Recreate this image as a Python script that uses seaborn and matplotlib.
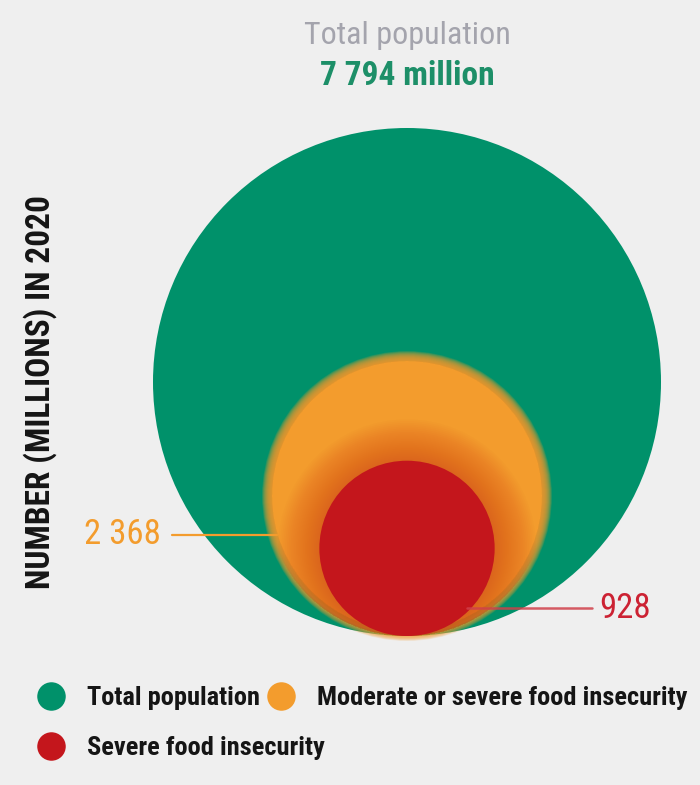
import numpy as np
import pandas as pd
import matplotlib
matplotlib.use("Agg")
import matplotlib.pyplot as plt
from matplotlib.patches import Circle
from matplotlib.lines import Line2D
from matplotlib import font_manager
import seaborn as sns

# ---------------- data ----------------
categories = ["Total population", "Moderate or severe food insecurity", "Severe food insecurity"]
values = [7794, 2368, 928]
value_labels = ["7 794", "2 368", "928"]
colors = ["#00916a", "#f39c2d", "#c4161c"]
label_colors = ["#1d8f68", "#f39c2d", "#cc2233"]

title_text = "Total population"
total_text = value_labels[0] + " million"
ylabel_text = "NUMBER (MILLIONS) IN 2020"

# ---------------- style ----------------
sns.set_theme(style="white")
BG = "#efefef"
names = {f.name for f in font_manager.fontManager.ttflist}
cands = ["Roboto Condensed", "Liberation Sans Narrow", "Roboto", "Liberation Sans"]
fam = next((c for c in cands if c in names), "DejaVu Sans")
narrow = fam in ("Liberation Sans Narrow", "Roboto Condensed")
k = 1.0 if narrow else 0.82
plt.rcParams["font.family"] = [fam, "DejaVu Sans"]

fig = plt.figure(figsize=(7.0, 7.85), dpi=100, facecolor=BG)
ax = fig.add_axes([0, 0, 1, 1])
ax.set_xlim(0, 700)
ax.set_ylim(785, 0)
ax.set_aspect("equal")
ax.axis("off")
ax.set_facecolor(BG)

df = pd.DataFrame({"category": categories, "value": values, "color": colors})

# layout
cx, base_y, R_total = 407.0, 636.0, 254.0
scale = R_total / np.sqrt(df["value"].iloc[0])
df["r"] = scale * np.sqrt(df["value"])
df["cy"] = base_y - df["r"]

g, o, rd = df.iloc[0], df.iloc[1], df.iloc[2]

# green circle
ax.add_patch(Circle((cx, g.cy), g.r, color=g.color, lw=0, zorder=1))

# orange circle with soft edge
feather = 10
n = 20
ax.add_patch(Circle((cx, o.cy), o.r - feather / 2, color=o.color, lw=0, zorder=2))
for j in range(1, n + 1):
    rr = o.r - feather / 2 + j * feather / n
    ax.add_patch(Circle((cx, o.cy), rr, color=o.color, lw=0, alpha=0.12, zorder=2))

# red glow inside orange
clip = Circle((cx, o.cy), o.r, transform=ax.transData)
for j in range(24):
    rr = rd.r + j * 1.8
    c = Circle((cx, rd.cy), rr, color="#c8301c", lw=0, alpha=0.022, zorder=3)
    ax.add_patch(c)
    c.set_clip_path(clip)

# red circle
ax.add_patch(Circle((cx, rd.cy), rd.r, color=rd.color, lw=0, zorder=4))

# annotations
y1 = 535.0
dx1 = np.sqrt(o.r ** 2 - (y1 - o.cy) ** 2)
ax.plot([172, cx - dx1 + 4], [y1, y1], color=label_colors[1], lw=1.6, zorder=5)
ax.text(161, y1, value_labels[1], color=label_colors[1], fontsize=25 * k,
        ha="right", va="center", zorder=6)

y2 = 608.0
dx2 = np.sqrt(rd.r ** 2 - (y2 - rd.cy) ** 2)
ax.plot([cx + dx2 - 4, 592], [y2, y2], color="#d0404a", lw=1.8, alpha=0.85, zorder=5)
ax.text(599, y2, value_labels[2], color=label_colors[2], fontsize=25 * k,
        ha="left", va="center", zorder=6)

# titles
ax.text(cx, 36, title_text, color="#a4a4ad", fontsize=23 * k, ha="center", va="center")
ax.text(cx, 76, total_text, color=label_colors[0], fontsize=24 * k, fontweight="bold",
        ha="center", va="center")

# y label
ax.text(40, 392, ylabel_text, color="#151515", fontsize=24 * k, fontweight="bold",
        rotation=90, ha="center", va="center")

# legend
def handle(c):
    return Line2D([], [], marker="o", linestyle="none", markersize=19.5,
                  markerfacecolor=c, markeredgecolor=c)

leg_kw = dict(frameon=False, prop={"size": 19 * k, "weight": "bold"},
              handlelength=1.4, handletextpad=0.66, borderaxespad=0, borderpad=0,
              labelcolor="#151515")
leg1 = fig.legend([handle(colors[0]), handle(colors[1])], categories[:2], ncol=2,
                  loc="center left", bbox_to_anchor=(33 / 700, 1 - 698 / 785),
                  columnspacing=0.1, **leg_kw)
leg2 = fig.legend([handle(colors[2])], categories[2:], ncol=1,
                  loc="center left", bbox_to_anchor=(33 / 700, 1 - 748 / 785), **leg_kw)

fig.savefig("out.png", dpi=100, facecolor=BG)
